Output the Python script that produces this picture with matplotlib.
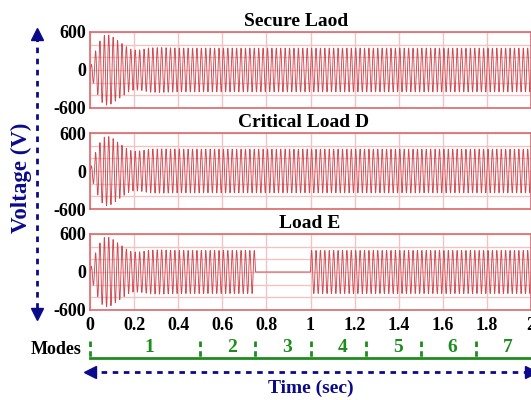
import numpy as np
import matplotlib
matplotlib.use("Agg")
import matplotlib.pyplot as plt

# envelope of the phase voltage (time in s, peak in V)
env_t = [0, 0.01, 0.02, 0.04, 0.06, 0.08, 0.10, 0.12, 0.14, 0.16, 0.18, 0.20, 0.23, 0.27, 0.32, 0.40, 2.0]
env_secure = [0, 150, 260, 430, 540, 560, 530, 480, 430, 380, 335, 315, 320, 350, 355, 345, 345]
env_critical = [0, 140, 250, 420, 530, 550, 525, 470, 420, 370, 330, 310, 320, 345, 350, 345, 345]
env_loadE = [0, 150, 260, 430, 540, 555, 525, 475, 425, 375, 330, 315, 320, 345, 350, 340, 340]
f_grid = 50  # Hz
loadE_off = (0.75, 1.0)  # load E disconnected

titles = ["Secure Laod", "Critical Load D", "Load E"]
title_x = [0.467, 0.485, 0.499]
mode_edges = [0, 0.5, 0.75, 1.0, 1.25, 1.5, 1.75, 2.0]
mode_names = ["1", "2", "3", "4", "5", "6", "7"]
xticks = [0, 0.2, 0.4, 0.6, 0.8, 1.0, 1.2, 1.4, 1.6, 1.8, 2.0]
xticklabels = ["0", "0.2", "0.4", "0.6", "0.8", "1", "1.2", "1.4", "1.6", "1.8", "2"]

plt.rcParams['font.family'] = ['Liberation Serif', 'DejaVu Serif']
plt.rcParams['font.weight'] = 'bold'
plt.rcParams['axes.unicode_minus'] = False

wave_c = '#d04850'
frame_c = '#d96a6e'
grid_c = '#f0c4c4'
navy = '#0b0b8a'
green = '#1f8c1f'

t = np.linspace(0, 2, 40001)
carrier = np.sin(2 * np.pi * f_grid * t)
v1 = np.interp(t, env_t, env_secure) * carrier
v2 = np.interp(t, env_t, env_critical) * carrier
v3 = np.interp(t, env_t, env_loadE) * carrier
v3[(t >= loadE_off[0]) & (t < loadE_off[1])] = 0

fig = plt.figure(figsize=(5.31, 4.0), dpi=100)
W, H = 531.0, 400.0
left = 90 / W
width = 441 / W
tops = [32, 133, 234]
axes = []
for i, (v, ttl) in enumerate(zip([v1, v2, v3], titles)):
    ax = fig.add_axes([left, 1 - (tops[i] + 76) / H, width, 76 / H])
    ax.plot(t, v, color=wave_c, lw=0.65)
    ax.set_xlim(0, 2)
    ax.set_ylim(-600, 600)
    ax.set_yticks([-600, 0, 600])
    ax.set_yticks(np.arange(-600, 601, 200), minor=True)
    ax.set_xticks(xticks)
    ax.grid(True, which='both', color=grid_c, lw=1)
    ax.set_axisbelow(True)
    for s in ax.spines.values():
        s.set_color(frame_c)
        s.set_linewidth(1.2)
    ax.tick_params(which='both', length=0, labelsize=13, pad=3)
    ax.set_title(ttl, fontsize=14, fontweight='bold', pad=4, x=title_x[i])
    if i < 2:
        ax.set_xticklabels([])
    else:
        ax.set_xticklabels(xticklabels)
        ax.tick_params(axis='x', pad=5)
    axes.append(ax)

# modes strip, x in seconds, y in pixels
axm = fig.add_axes([left, 0, width, 70 / H])
axm.set_xlim(0, 2)
axm.set_ylim(400, 330)
axm.axis('off')
axm.plot([0, 2.05], [358, 358], color=green, lw=2, clip_on=False)
for e in mode_edges[:-1]:
    axm.plot([e, e], [341, 358], color=green, lw=2, ls=(0, (2, 1.5)), clip_on=False)
for a, b, n in zip(mode_edges[:-1], mode_edges[1:], mode_names):
    axm.text((a + b) / 2 + 0.02, 348, n, color=green, fontsize=14, fontweight='bold',
             ha='center', va='center')
axm.plot([0, 2.0], [372, 372], color=navy, lw=2, ls=(0, (2, 2)), clip_on=False)
axm.plot([0.0], [372], marker='<', color=navy, ms=8, clip_on=False)
axm.plot([2.0], [372], marker='>', color=navy, ms=8, clip_on=False)
axm.text(1.0, 388, "Time (sec)", color=navy, fontsize=14, fontweight='bold',
         ha='center', va='center')

fig.text(56 / W, 1 - 349 / H, "Modes", fontsize=13, fontweight='bold',
         ha='center', va='center')

# left voltage arrow
ov = fig.add_axes([0, 0, 1, 1], facecolor='none')
ov.set_xlim(0, W)
ov.set_ylim(H, 0)
ov.axis('off')
ov.plot([37, 37], [36, 312], color=navy, lw=2, ls=(0, (2, 2)))
ov.plot([37], [34], marker='^', color=navy, ms=8)
ov.plot([37], [314], marker='v', color=navy, ms=8)
ov.text(21, 178, "Voltage (V)", color=navy, fontsize=16.5, fontweight='bold',
        rotation=90, ha='center', va='center')

fig.savefig("out.png", dpi=100)
